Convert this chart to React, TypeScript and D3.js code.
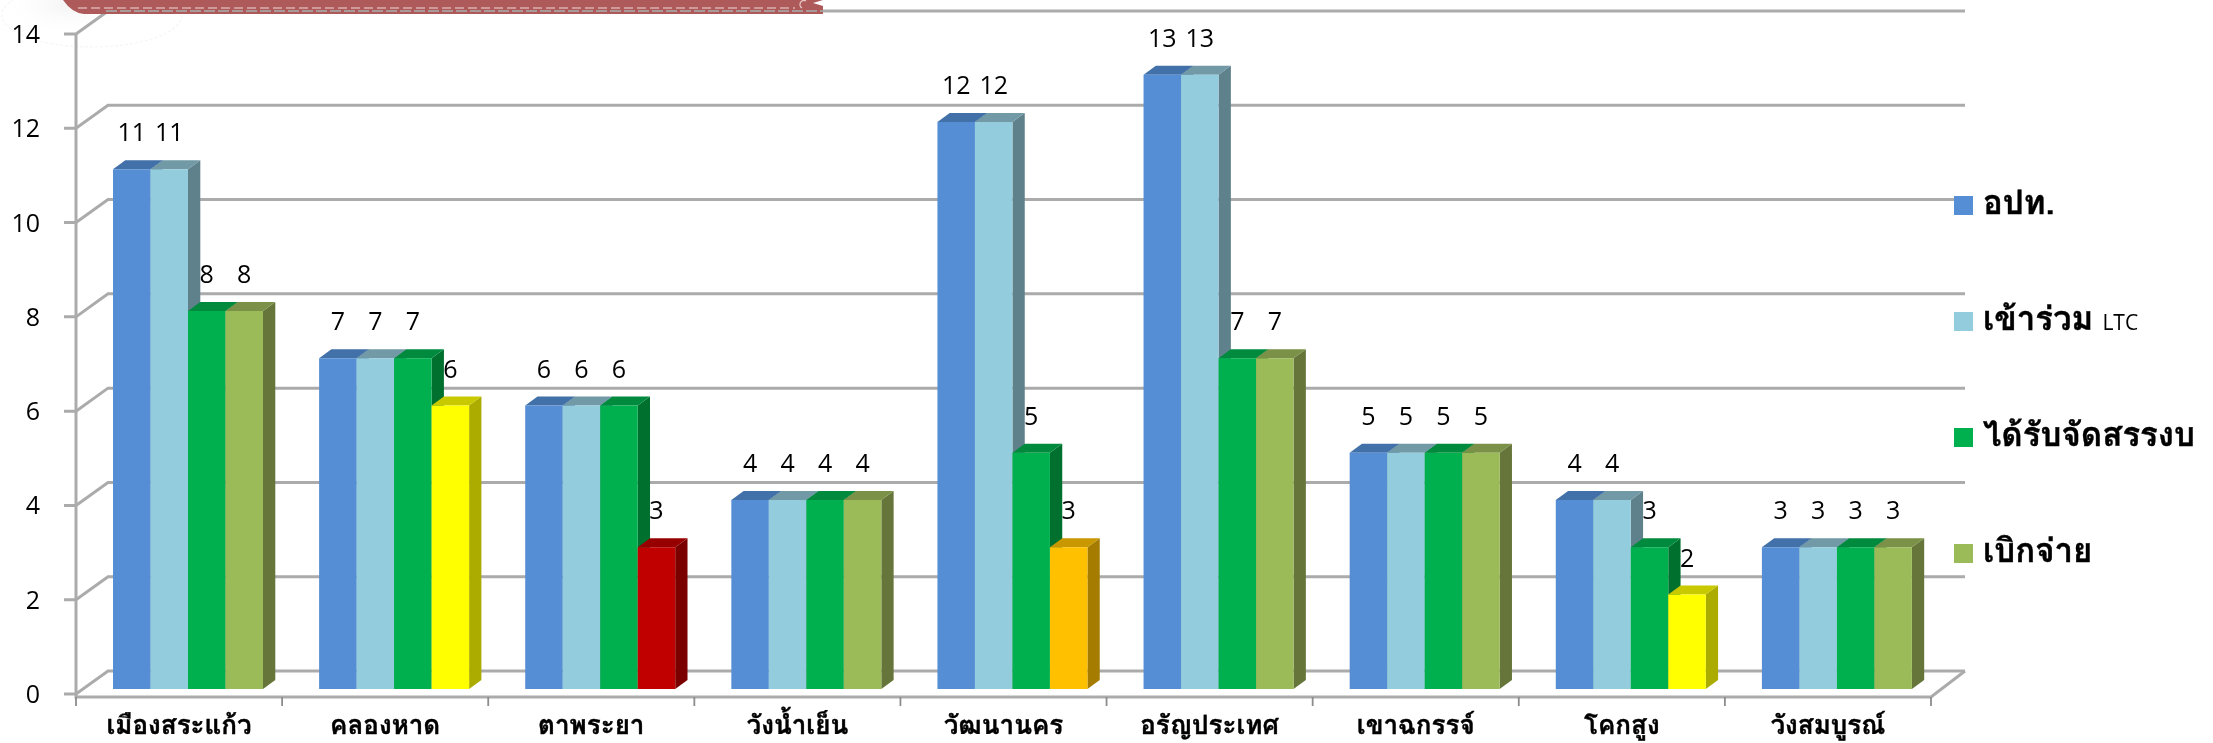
import React, { useMemo } from "react";
import * as d3 from "d3";

const categories = ["เมืองสระแก้ว", "คลองหาด", "ตาพระยา", "วังน้ำเย็น", "วัฒนานคร", "อรัญประเทศ", "เขาฉกรรจ์", "โคกสูง", "วังสมบูรณ์"];
const seriesNames = ["อปท.", "เข้าร่วม", "ได้รับจัดสรรงบ", "เบิกจ่าย"];
const seriesSuffix = ["", "LTC", "", ""];
const local = [11, 7, 6, 4, 12, 13, 5, 4, 3];
const joined = [11, 7, 6, 4, 12, 13, 5, 4, 3];
const funded = [8, 7, 6, 4, 5, 7, 5, 3, 3];
const paid = [8, 6, 3, 4, 3, 7, 5, 2, 3];
const seriesValues = [local, joined, funded, paid];
const yTicks = [0, 2, 4, 6, 8, 10, 12, 14];

const seriesFront = ["#558ED5", "#93CDDD", "#00B050", "#9BBB59"];
const seriesTop = ["#4270A8", "#7199A6", "#008A3E", "#7A9146"];
const seriesSide = ["#3F6A9F", "#5F818C", "#00702F", "#66763A"];
// category index -> override colours of the last series
const paidOverride: Record<number, [string, string, string]> = {
  1: ["#FFFF00", "#C9C900", "#ABAB00"],
  2: ["#C00000", "#970000", "#7A0000"],
  4: ["#FFC000", "#C99700", "#A57C00"],
  7: ["#FFFF00", "#C9C900", "#ABAB00"],
};

const W = 2213, H = 743;
const left = 76, right = 1931, dxWall = 32, dyWall = 23;
const dxBar = 12.3, dyBar = 9;
const labelFont = "'Open Sans', 'Noto Sans', sans-serif";
const thaiFont = "Tahoma, Loma, Waree, 'Noto Sans Thai', 'DejaVu Sans', sans-serif";
const gridColor = "#ABABAB";

export default function App() {
  const x = useMemo(() => d3.scaleBand<string>().domain(categories).range([left, right]).padding(0), []);
  const inner = useMemo(() => d3.scaleBand<number>().domain([0, 1, 2, 3]).range([37, 187]), []);
  const yAxis = useMemo(() => d3.scaleLinear().domain([0, 14]).range([694, 34]), []);
  const yBar = useMemo(() => d3.scaleLinear().domain([0, 14]).range([689, 27.5]), []);
  const bw = inner.bandwidth();
  return (
    <svg width={W} height={H} style={{ position: "absolute", left: 0, top: 0, background: "#fff" }}>
      <defs>
        <radialGradient id="fade" cx="0.5" cy="0.5" r="0.5">
          <stop offset="0" stopColor="#eee" stopOpacity={0.7} />
          <stop offset="1" stopColor="#fff" stopOpacity={0} />
        </radialGradient>
        <filter id="soft" x="0" y="0" width="100%" height="100%" filterUnits="objectBoundingBox">
          <feGaussianBlur stdDeviation="0.55" />
        </filter>
      </defs>
      <g filter="url(#soft)">
        <rect width={W} height={H} fill="#fff" />
        <ellipse cx={70} cy={5} rx={70} ry={30} fill="url(#fade)" />
        <ellipse cx={92} cy={15} rx={90} ry={32} fill="none" stroke="#f5f5f5" strokeWidth={1.2} strokeDasharray="3 2" />
        {/* gridlines */}
        {yTicks.map((t) => (
          <path key={t} stroke={gridColor} strokeWidth={3} fill="none"
            d={`M${left - 12},${yAxis(t)}H${left}L${left + dxWall},${yAxis(t) - dyWall}H${right + dxWall + 2}`} />
        ))}
        <path d={`M${left},${yAxis(14)}V${yAxis(0) + 3}H${right}L${right + dxWall + 2},${yAxis(0) - dyWall}`} fill="none" stroke={gridColor} strokeWidth={3} />
        {[...categories.map((c) => x(c)!), right].map((px) => (
          <line key={px} x1={px} x2={px} y1={yAxis(0) + 3} y2={yAxis(0) + 12} stroke="#8c8c8c" strokeWidth={1.8} />
        ))}
        {yTicks.map((t) => (
          <text key={t} x={40} y={yAxis(t) + 9} textAnchor="end" fontFamily={labelFont} fontSize={25} fill="#000">{t}</text>
        ))}
        {/* value labels sit behind the bars */}
        {seriesValues.map((vals, s) => vals.map((v, i) => (
          <text key={`${s}-${i}`} x={x(categories[i])! + inner(s)! + bw / 2} y={yBar(v) - 28} textAnchor="middle" fontFamily={labelFont} fontSize={25} fill="#000">{v}</text>
        )))}
        {/* bars */}
        {categories.map((c, i) => (
          <g key={c}>
            {seriesValues.map((vals, s) => {
              const x0 = x(c)! + inner(s)!;
              const x1 = x0 + bw;
              const y0 = yBar(0);
              const y1 = yBar(vals[i]);
              const o = s === 3 ? paidOverride[i] : undefined;
              return (
                <g key={s}>
                  <path d={`M${x1},${y0}L${x1 + dxBar},${y0 - dyBar}V${y1 - dyBar}L${x1},${y1}Z`} fill={o ? o[2] : seriesSide[s]} />
                  <path d={`M${x0},${y1}L${x0 + dxBar},${y1 - dyBar}H${x1 + dxBar}L${x1},${y1}Z`} fill={o ? o[1] : seriesTop[s]} />
                  <rect x={x0} y={y1} width={bw} height={y0 - y1} fill={o ? o[0] : seriesFront[s]} />
                </g>
              );
            })}
          </g>
        ))}
        {/* category labels */}
        {categories.map((c) => (
          <text key={c} x={x(c)! + x.bandwidth() / 2} y={734} textAnchor="middle" fontFamily={thaiFont} fontWeight={700} fontSize={26} fill="#000" stroke="#000" strokeWidth={0.4}>{c}</text>
        ))}
        {/* banner */}
        <path d="M63,0H823L813,3L823,6V14H84Q72,13 63,0Z" fill="#AF5A5A" />
        <line x1={78} x2={795} y1={8} y2={8} stroke="#DDB0B0" strokeWidth={1.5} strokeDasharray="9 4" />
        <line x1={106} x2={823} y1={11} y2={11} stroke="#A99A9A" strokeWidth={2} strokeDasharray="11 3" />
        <path d="M806,1A4,4 0 0 0 802,8" fill="none" stroke="#E6C8C8" strokeWidth={1.3} />
        {/* legend */}
        {seriesNames.map((n, s) => (
          <g key={n}>
            <rect x={1954} y={196 + s * 116} width={19} height={19} fill={seriesFront[s]} />
            <text x={1983} y={214 + s * 116} fontFamily={thaiFont} fontWeight={700} fontSize={33} fill="#000" stroke="#000" strokeWidth={0.4}>
              {n}
              {seriesSuffix[s] && <tspan fontSize={21} fontWeight={400} fontFamily={labelFont} stroke="none" dx={9}>{seriesSuffix[s]}</tspan>}
            </text>
          </g>
        ))}
      </g>
    </svg>
  );
}
